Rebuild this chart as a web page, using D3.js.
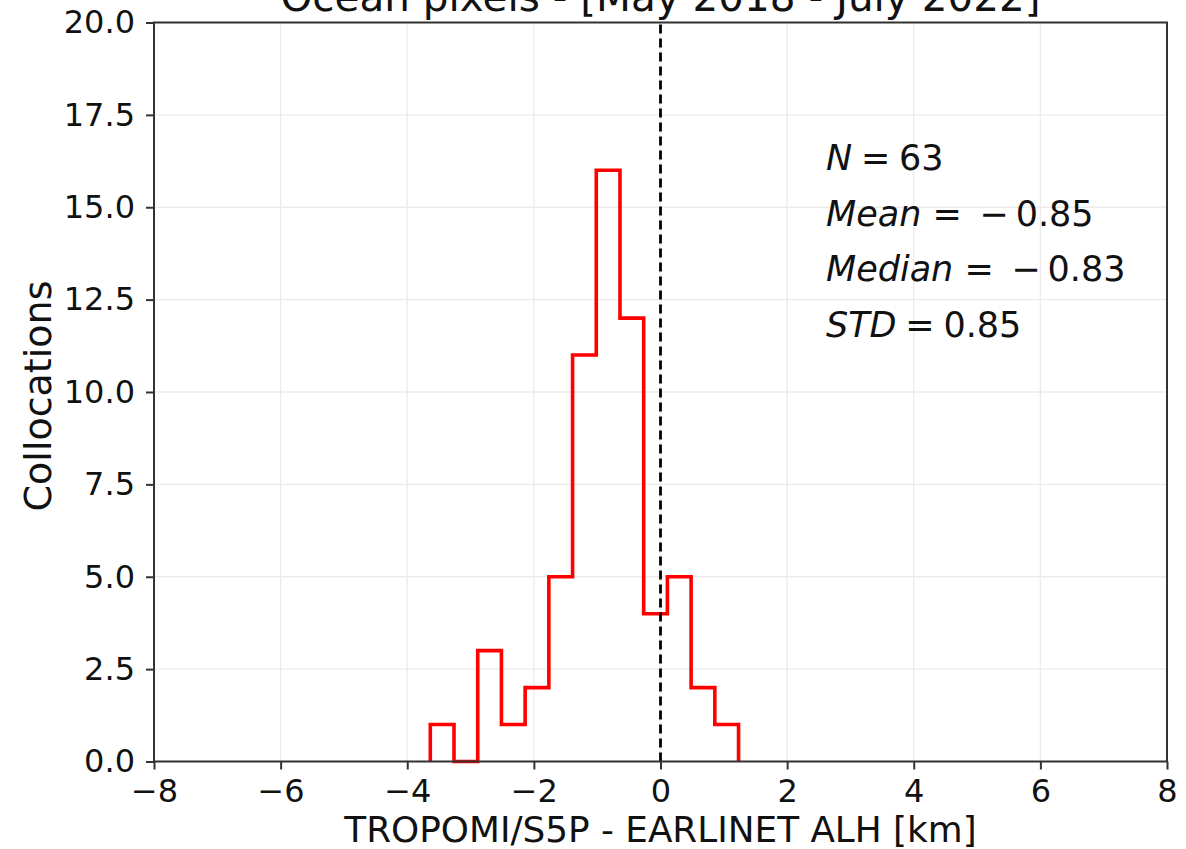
<!DOCTYPE html>
<html>
<head>
<meta charset="utf-8">
<script src="https://cdn.jsdelivr.net/npm/d3@7"></script>
<style>
  html, body { margin: 0; padding: 0; background: #fff; }
  svg { display: block; font-family: "DejaVu Sans", sans-serif; }
  .stat { white-space: pre; }
</style>
</head>
<body>
<svg id="chart" width="1186" height="849"></svg>
<script>
// Histogram of ALH differences (km), ocean pixels
const binStart = -3.636;
const binWidth = 0.3745;
const counts = [1, 0, 3, 1, 2, 5, 11, 16, 12, 4, 5, 2, 1];

const xTicks = [-8, -6, -4, -2, 0, 2, 4, 6, 8];
const yTicks = [0, 2.5, 5, 7.5, 10, 12.5, 15, 17.5, 20];

const titleText = "Ocean pixels - [May 2018 - July 2022]";
const xLabel = "TROPOMI/S5P - EARLINET ALH [km]";
const yLabel = "Collocations";
const statNames = ["N", "Mean", "Median", "STD"];
const statValues = ["63", "\u2212\u20090.85", "\u2212\u20090.83", "0.85"];

const svg = d3.select("#chart");
const margin = { left: 154, right: 1186 - 1167, top: 22.5, bottom: 849 - 761.5 };
const W = 1186 - margin.left - margin.right;
const H = 849 - margin.top - margin.bottom;

const x = d3.scaleLinear().domain([-8, 8]).range([margin.left, margin.left + W]);
const y = d3.scaleLinear().domain([0, 20]).range([margin.top + H, margin.top]);

// grid
const grid = svg.append("g");
grid.selectAll("line.vx").data(xTicks).join("line")
  .attr("x1", d => x(d)).attr("x2", d => x(d))
  .attr("y1", y(0)).attr("y2", y(20))
  .attr("stroke", "#ebebeb").attr("stroke-width", 1.3);
grid.selectAll("line.hy").data(yTicks).join("line")
  .attr("x1", x(-8)).attr("x2", x(8))
  .attr("y1", d => y(d)).attr("y2", d => y(d))
  .attr("stroke", "#ebebeb").attr("stroke-width", 1.3);

// step outline of histogram
const edges = counts.map((_, i) => binStart + i * binWidth).concat([binStart + counts.length * binWidth]);
const pts = [[edges[0], 0]];
counts.forEach((c, i) => { pts.push([edges[i], c]); pts.push([edges[i + 1], c]); });
pts.push([edges[edges.length - 1], 0]);
svg.append("path")
  .attr("d", d3.line().x(d => x(d[0])).y(d => y(d[1]))(pts))
  .attr("fill", "none").attr("stroke", "#ff0000").attr("stroke-width", 3.6)
  .attr("stroke-linejoin", "miter");

// zero line
svg.append("line")
  .attr("x1", x(0)).attr("x2", x(0)).attr("y1", y(0)).attr("y2", y(20))
  .attr("stroke", "#000").attr("stroke-width", 2.8).attr("stroke-dasharray", "9,5");

// axes
const xAxis = d3.axisBottom(x).tickValues(xTicks).tickSize(8).tickPadding(10)
  .tickFormat(d => d < 0 ? "\u2212" + Math.abs(d) : String(d));
const yAxis = d3.axisLeft(y).tickValues(yTicks).tickSize(8).tickPadding(11)
  .tickFormat(d3.format(".1f"));

const gx = svg.append("g").attr("transform", `translate(0,${y(0)})`).call(xAxis);
const gy = svg.append("g").attr("transform", `translate(${x(-8)},0)`).call(yAxis);
[gx, gy].forEach(g => {
  g.attr("font-family", null).attr("font-size", null);
  g.select(".domain").remove();
  g.selectAll(".tick line").attr("stroke", "#333").attr("stroke-width", 2);
  g.selectAll(".tick text").attr("fill", "#111").style("font-size", "32px");
});

// frame
svg.append("rect")
  .attr("x", x(-8)).attr("y", y(20)).attr("width", W).attr("height", H)
  .attr("fill", "none").attr("stroke", "#333").attr("stroke-width", 2);

// labels
svg.append("text").attr("x", x(0)).attr("y", 11).attr("text-anchor", "middle")
  .style("font-size", "40.5px").attr("fill", "#111").text(titleText);
svg.append("text").attr("x", x(0)).attr("y", 842).attr("text-anchor", "middle")
  .style("font-size", "35.8px").attr("fill", "#111").text(xLabel);
svg.append("text").attr("transform", `translate(51,${y(10) + 4}) rotate(-90)`)
  .attr("text-anchor", "middle")
  .style("font-size", "38px").attr("fill", "#111").text(yLabel);

// summary statistics
const st = svg.append("g");
statNames.forEach((name, i) => {
  const negative = statValues[i].startsWith("\u2212");
  const t = st.append("text").attr("class", "stat").attr("x", 826).attr("y", 170 + i * 55.5)
    .style("font-size", "35px").attr("fill", "#111");
  t.append("tspan").style("font-style", "italic").text(name);
  t.append("tspan").text(negative ? "\u00a0=\u2002" : "\u2005=\u2005");
  t.append("tspan").text(statValues[i]);
});
</script>
</body>
</html>
